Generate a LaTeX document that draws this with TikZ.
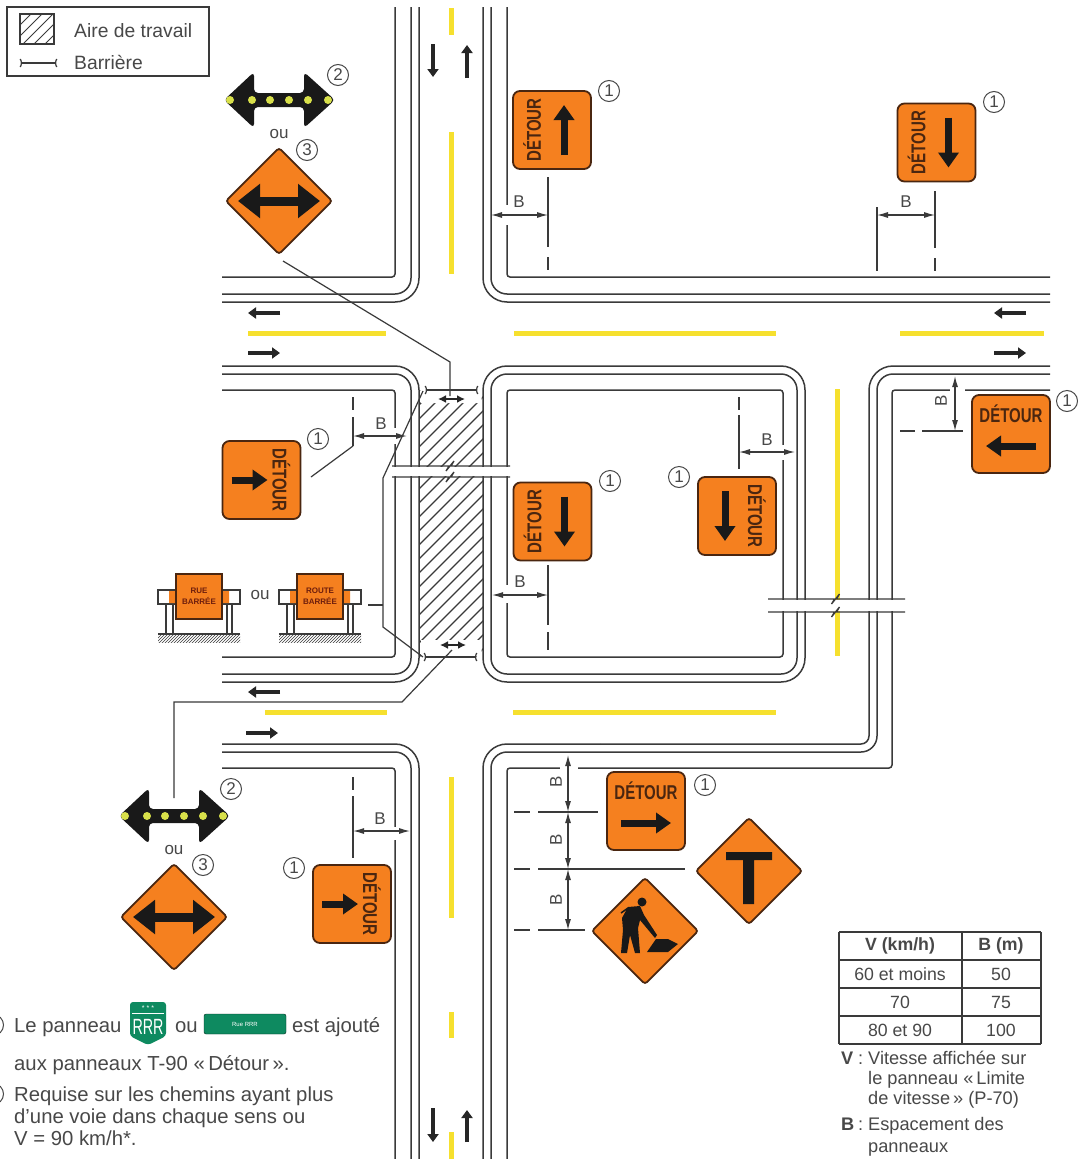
\documentclass[tikz,border=0pt]{standalone}
\usepackage{fontspec}
\setmainfont{Liberation Sans}
\usetikzlibrary{arrows.meta,calc,patterns,shapes.geometric}
\tikzset{>=latex}
\definecolor{lineink}{HTML}{3A3A3A}
\definecolor{textink}{HTML}{484848}
\definecolor{signorange}{HTML}{F5801F}
\definecolor{signdark}{HTML}{4A2610}
\definecolor{markyellow}{HTML}{F6E02E}
\definecolor{lampyellow}{HTML}{D8E04A}
\definecolor{shieldgreen}{HTML}{0E8A60}
\tikzset{
  roadline/.style={draw=lineink,line width=1.5pt},
  gapline/.style={draw=white,line width=4pt},
  yellowline/.style={draw=markyellow,line width=5pt},
  thinline/.style={draw=lineink,line width=1.2pt},
  dimarrow/.style={thinline,{Latex[length=11pt,width=6pt]}-{Latex[length=11pt,width=6pt]}},
  roadarrow/.style={draw=black!85,line width=4pt,-{Triangle[length=8pt,width=11pt]}},
  detourbox/.style={draw=signdark,fill=signorange,line width=1.8pt,rounded corners=7pt,minimum size=78pt,inner sep=0pt},
  detourtext/.style={text=signdark,font=\fontsize{20}{20}\selectfont\bfseries,inner sep=0pt},
  detourarrow/.style={draw=black!90,line width=7pt,-{Triangle[length=15pt,width=20pt]}},
  warnsign/.style={shape=diamond,aspect=1,draw=signdark,fill=signorange,line width=1.8pt,rounded corners=3pt,minimum size=107pt,inner sep=0pt},
  callout/.style={circle,draw=textink,line width=1pt,minimum size=21pt,inner sep=0pt,text=textink,font=\fontsize{17}{17}\selectfont},
  dimlabel/.style={text=textink,inner sep=0pt,font=\fontsize{17}{17}\selectfont},
  notetext/.style={text=textink,inner sep=0pt,anchor=base west,font=\fontsize{20.3}{22}\selectfont},
  sidetext/.style={text=textink,inner sep=0pt,anchor=base west,font=\fontsize{18.2}{20}\selectfont},
  legendtext/.style={text=textink,inner sep=0pt,anchor=base west,font=\fontsize{19.3}{20}\selectfont},
  cellhead/.style={text=textink,inner sep=0pt,font=\fontsize{17.7}{19}\selectfont\bfseries},
  celltext/.style={text=textink,inner sep=0pt,font=\fontsize{17.7}{19}\selectfont},
  barrier/.style={thinline,{Arc Barb[reversed,length=2pt,width=9pt]}-{Arc Barb[reversed,length=2pt,width=9pt]}},
}
% name, x, y, text angle, arrow angle, half length of the arrow
\newcommand{\detoursign}[6]{
  \node[detourbox] (#1) at (#2,#3) {};
  \node[detourtext,rotate=#4,xscale=0.75] (#1text) at ($(#1)+(#4+90:20pt)$) {DÉTOUR};
  \draw[detourarrow] ($(#1)+(#4-90:12pt)+(#5+180:#6pt)$) -- ($(#1)+(#4-90:12pt)+(#5:#6pt)$);
}
% name, x, y
\newcommand{\arrowboard}[3]{
  \coordinate (#1) at (#2,#3);
  \begin{scope}[shift={(#2,#3)}]
    \fill[black!90,rounded corners=4pt] (-55,0) -- (-25,-28) -- (-25,-7) -- (25,-7) -- (25,-28)
      -- (56,0) -- (25,28) -- (25,7) -- (-25,7) -- (-25,28) -- cycle;
    \foreach \x in {-49,-27,-9,10,29,49}
      \fill[lampyellow] (\x,0) circle (4pt);
  \end{scope}
}
% name, x, y
\newcommand{\doublearrowsign}[3]{
  \node[warnsign] (#1) at (#2,#3) {};
  \draw[draw=black!90,line width=9pt,{Triangle[length=22pt,width=33pt]}-{Triangle[length=22pt,width=33pt]}]
    ($(#1)+(-41,0)$) -- ($(#1)+(41,0)$);
}
% name, x, first line, second line
\newcommand{\barricade}[4]{
  \begin{scope}[shift={(#2,0)}]
    \draw[lineink,line width=1.3pt,fill=white] (-41,590) rectangle (41,604);
    \fill[signorange] (-30,591) rectangle (-22,603) (22,591) rectangle (30,603);
    \draw[lineink,line width=1.3pt] (-33,604) -- (-33,634) (-26,604) -- (-26,634) (28,604) -- (28,634) (33,604) -- (33,634);
    \fill[pattern=north east lines,pattern color=lineink] (-41,634) rectangle (41,642);
    \draw[lineink,line width=1.5pt] (-41,634) -- (41,634);
    \node[draw=signdark,fill=signorange,line width=1.3pt,minimum width=46pt,minimum height=45pt,inner sep=0pt,
          align=center,text=signdark!80!red,font=\fontsize{8}{11}\selectfont\bfseries] (#1) at (0,596.5) {#3\\#4};
  \end{scope}
}
% left end, right end, y
\newcommand{\breakline}[3]{
  \draw[roadline,line width=1.3pt] (#1,#3) -- ({(#1+#2)/2-2},#3) -- ({(#1+#2)/2-5},#3+5) -- ({(#1+#2)/2+3},#3-5) -- ({(#1+#2)/2},#3) -- (#2,#3);
}

\begin{document}
\begin{tikzpicture}[x=1pt,y=-1pt]
  \useasboundingbox (0,0) rectangle (1078,1159);
  \fill[white] (0,0) rectangle (1078,1159);
  % yellow markings
  \draw[yellowline] (451,8) -- (451,35) (451,132) -- (451,274);
  \draw[yellowline] (248,333) -- (386,333) (514,333) -- (776,333) (900,333) -- (1044,333);
  \draw[yellowline] (265,712) -- (387,712) (513,712) -- (776,712);
  \draw[yellowline] (451,777) -- (451,918) (451,1012) -- (451,1038) (451,1132) -- (451,1159);
  \draw[yellowline] (837,389) -- (837,656);
  % road edges
  \draw[roadline,rounded corners=3pt] (395,7) -- (395,277) -- (222,277);
  \draw[roadline,rounded corners=16pt] (411,7) -- (411,294) -- (222,294);
  \draw[roadline,rounded corners=24pt] (419,7) -- (419,302) -- (222,302);
  \draw[roadline,rounded corners=3pt] (507,7) -- (507,277) -- (1050,277);
  \draw[roadline,rounded corners=16pt] (491,7) -- (491,294) -- (1050,294);
  \draw[roadline,rounded corners=24pt] (483,7) -- (483,302) -- (1050,302);
  \draw[roadline,rounded corners=24pt] (222,366) -- (419,366) -- (419,682) -- (222,682);
  \draw[roadline,rounded corners=16pt] (222,374) -- (411,374) -- (411,674) -- (222,674);
  \draw[roadline,rounded corners=3pt] (222,390) -- (395,390) -- (395,657) -- (222,657);
  \draw[roadline,rounded corners=24pt] (483,500) -- (483,366) -- (805,366) -- (805,682) -- (483,682) -- cycle;
  \draw[roadline,rounded corners=16pt] (491,500) -- (491,374) -- (797,374) -- (797,674) -- (491,674) -- cycle;
  \draw[roadline,rounded corners=3pt] (507,500) -- (507,390) -- (783,390) -- (783,657) -- (507,657) -- cycle;
  \draw[roadline,rounded corners=24pt] (1050,366) -- (869,366) -- (869,600);
  \draw[roadline,rounded corners=8pt] (869,600) -- (869,744) -- (600,744);
  \draw[roadline,rounded corners=24pt] (600,744) -- (483,744) -- (483,1159);
  \draw[roadline,rounded corners=16pt] (1050,374) -- (877,374) -- (877,752) -- (491,752) -- (491,1159);
  \draw[roadline,rounded corners=3pt] (1050,390) -- (892,390) -- (892,768) -- (507,768) -- (507,1159);
  \draw[roadline,rounded corners=24pt] (222,744) -- (419,744) -- (419,1159);
  \draw[roadline,rounded corners=16pt] (222,752) -- (411,752) -- (411,1159);
  \draw[roadline,rounded corners=3pt] (222,768) -- (395,768) -- (395,1159);
  % work area
  \begin{scope}
    \clip (419,390) rectangle (483,657);
    \foreach \i in {0,14,...,338}
      \draw[lineink,line width=1.1pt] (\i+150,660) -- (\i+420,390);
  \end{scope}
  \fill[white] (421,391) rectangle (481.5,403) (421,640) rectangle (481.5,656);
  \draw[barrier] (425,390) -- (478,390);
  \draw[barrier] (424,657) -- (477,657);
  \draw[draw=black!85,line width=2pt,{Latex[length=8pt,width=8pt]}-{Latex[length=8pt,width=8pt]}] (438,399) -- (465,399);
  \draw[draw=black!85,line width=2pt,{Latex[length=8pt,width=8pt]}-{Latex[length=8pt,width=8pt]}] (440,645) -- (466,645);
  \coordinate (barriertop) at (450,396);
  \coordinate (barrierbottom) at (452,650);
  % cut bands
  \fill[white] (388,467) rectangle (512,476);
  \breakline{392}{510}{466}
  \breakline{392}{510}{477}
  \fill[white] (766,600) rectangle (908,611);
  \breakline{768}{905}{599}
  \breakline{768}{905}{612}
  % lane arrows
  \draw[roadarrow] (433,44) -- (433,77);
  \draw[roadarrow] (467,78) -- (467,45);
  \draw[roadarrow] (433,1108) -- (433,1142);
  \draw[roadarrow] (467,1142) -- (467,1110);
  \draw[roadarrow] (280,313) -- (248,313);
  \draw[roadarrow] (248,353) -- (280,353);
  \draw[roadarrow] (1026,313) -- (994,313);
  \draw[roadarrow] (994,353) -- (1026,353);
  \draw[roadarrow] (280,692) -- (248,692);
  \draw[roadarrow] (246,733) -- (278,733);
  % spacing marks
  \draw[gapline] (507,205) -- (507,225) (395,428) -- (395,444) (507,585) -- (507,603) (783,445) -- (783,460);
  \draw[gapline] (395,827) -- (395,840) (950,390) -- (965,390) (560,768) -- (578,768);
  \draw[thinline] (548,177) -- (548,247) (548,257) -- (548,270);
  \draw[dimarrow] (491,215) -- (548,215);
  \node[dimlabel] (spacenorth) at (519,202) {B};
  \draw[thinline] (877,207) -- (877,271) (935,191) -- (935,248) (935,258) -- (935,271);
  \draw[dimarrow] (877,215) -- (935,215);
  \node[dimlabel] (spacene) at (906,202) {B};
  \draw[thinline] (353,397) -- (353,410) (353,417) -- (353,446);
  \draw[dimarrow] (353,436) -- (407,436);
  \node[dimlabel] (spacewest) at (381,424) {B};
  \draw[thinline] (548,565) -- (548,625) (548,632) -- (548,650);
  \draw[dimarrow] (492,595) -- (548,595);
  \node[dimlabel] (spacemiddle) at (520,582) {B};
  \draw[thinline] (739,397) -- (739,410) (739,415) -- (739,469);
  \draw[dimarrow] (739,452) -- (795,452);
  \node[dimlabel] (spaceright) at (767,440) {B};
  \draw[thinline] (900,431) -- (915,431) (922,431) -- (963,431);
  \draw[dimarrow] (955,376) -- (955,431);
  \node[dimlabel,rotate=90] (spaceeast) at (941,401) {B};
  \draw[thinline] (353,777) -- (353,790) (353,796) -- (353,858);
  \draw[dimarrow] (353,831) -- (410,831);
  \node[dimlabel] (spacesouth) at (380,819) {B};
  \draw[thinline] (514,812) -- (530,812) (538,812) -- (598,812);
  \draw[thinline] (514,869) -- (530,869) (538,869) -- (685,869);
  \draw[thinline] (514,930) -- (530,930) (538,930) -- (585,930);
  \draw[dimarrow] (568,755) -- (568,812);
  \draw[dimarrow] (568,812) -- (568,869);
  \draw[dimarrow] (568,869) -- (568,930);
  \node[dimlabel,rotate=90] (spaceone) at (556,782) {B};
  \node[dimlabel,rotate=90] (spacetwo) at (556,840) {B};
  \node[dimlabel,rotate=90] (spacethree) at (556,900) {B};
  % leaders
  \coordinate (leaderdiamond) at (283,261);
  \coordinate (leaderboard) at (174,798);
  \coordinate (leaderwest) at (311,477);
  \coordinate (leaderblock) at (368,605);
  \coordinate (leaderupper) at (423,391);
  \coordinate (leaderlower) at (423,657);
  \draw[thinline] (leaderdiamond) -- (450,362) -- (barriertop);
  \draw[thinline] (leaderboard) -- (174,702) -- (402,702) -- (barrierbottom);
  \draw[thinline] (353,446) -- (leaderwest);
  \draw[thinline] (leaderupper) -- (383,478) -- (383,627) -- (leaderlower);
  \draw[thinline] (leaderblock) -- (383,605);
  % detour signs
  \detoursign{detournorth}{552}{130}{90}{90}{25}
  \detoursign{detourne}{936.5}{142.5}{90}{-90}{25}
  \detoursign{detourwest}{261.5}{480}{-90}{0}{18}
  \detoursign{detourmiddle}{552.5}{521.5}{90}{-90}{25}
  \detoursign{detourright}{737}{516}{-90}{-90}{25}
  \detoursign{detoureast}{1011}{434}{0}{180}{25}
  \detoursign{detourse}{646}{811}{0}{0}{25}
  \detoursign{detoursouth}{352}{904}{-90}{0}{18}
  \node[callout] (onenorth) at (609,91) {1};
  \node[callout] (onene) at (994,102) {1};
  \node[callout] (onewest) at (318,439) {1};
  \node[callout] (onemiddle) at (610,481) {1};
  \node[callout] (oneright) at (679,477) {1};
  \node[callout] (oneeast) at (1067,401) {1};
  \node[callout] (onese) at (705,785) {1};
  \node[callout] (onesouth) at (294,868) {1};
  % arrow boards
  \arrowboard{boardnorth}{279}{100}
  \node[callout] (twonorth) at (338,75) {2};
  \node[dimlabel] (ounorth) at (279,134) {ou};
  \doublearrowsign{diamondnorth}{279}{201}
  \node[callout] (threenorth) at (307,150) {3};
  \arrowboard{boardsouth}{174}{816}
  \node[callout] (twosouth) at (231,789) {2};
  \node[dimlabel] (ousouth) at (174,850) {ou};
  \doublearrowsign{diamondsouth}{174}{917}
  \node[callout] (threesouth) at (203,865) {3};
  % barricades
  \barricade{barricadeleft}{199}{RUE}{BARRÉE}
  \barricade{barricaderight}{320}{ROUTE}{BARRÉE}
  \node[dimlabel] (oublock) at (260,595) {ou};
  % warning signs
  \node[warnsign] (signjunction) at (749,871) {};
  \fill[black!90] (726,852) rectangle (772,860) (743,860) rectangle (754,904);
  \node[warnsign] (signworker) at (645,931) {};
  \fill[black!90] (642,902) circle (4.5pt);
  \fill[black!90] (628,907) -- (640,906) -- (644,915) -- (657,935) -- (655,938) -- (640,920) -- (638,928) -- (640,953)
    -- (635,953) -- (630,935) -- (627,953) -- (621,953) -- (623,930) -- (622,918) -- cycle;
  \draw[black!90,line width=1.5pt] (628,908) -- (621,913);
  \fill[black!90] (647,952) -- (656,939) -- (668,939) -- (678,944) -- (668,952) -- cycle;
  % legend
  \draw[thinline] (7,7) rectangle (209,76);
  \begin{scope}
    \clip (20,14) rectangle (54,44);
    \foreach \i in {0,11,...,66}
      \draw[lineink,line width=0.8pt] (\i-10,44) -- (\i+20,14);
  \end{scope}
  \draw[thinline] (20,14) rectangle (54,44);
  \coordinate (legendleft) at (20,63);
  \coordinate (legendright) at (57,63);
  \draw[barrier] (legendleft) -- (legendright);
  \node[legendtext] (legendwork) at (74,37) {Aire de travail};
  \node[legendtext] (legendbarrier) at (74,69) {Barrière};
  % table
  \foreach \y in {932,960,988,1016,1044}
    \draw[thinline,line width=1.5pt] (839,\y) -- (1041,\y);
  \foreach \x in {839,962,1041}
    \draw[thinline,line width=1.5pt] (\x,932) -- (\x,1044);
  \node[cellhead] (headv) at (900,946) {V (km/h)};
  \node[cellhead] (headb) at (1001,946) {B (m)};
  \foreach \y/\limitv/\gapb in {974/60 et moins/50,1002/70/75,1030/80 et 90/100} {
    \node[celltext] (limit\y) at (900,\y) {\limitv};
    \node[celltext] (gap\y) at (1001,\y) {\gapb};
  }
  \node[sidetext] (keyv) at (841,1064) {\bfseries V};
  \node[sidetext] (keyvcolon) at (858,1064) {:};
  \node[sidetext] (keyvone) at (868,1064) {Vitesse affichée sur};
  \node[sidetext] (keyvtwo) at (868,1084) {le panneau «\,Limite};
  \node[sidetext] (keyvthree) at (868,1104) {de vitesse\,» (P-70)};
  \node[sidetext] (keyb) at (841,1130) {\bfseries B};
  \node[sidetext] (keybcolon) at (858,1130) {:};
  \node[sidetext] (keybone) at (868,1130) {Espacement des};
  \node[sidetext] (keybtwo) at (868,1152) {panneaux};
  % notes
  \node[callout] (noteone) at (-7,1025) {};
  \node[callout] (notetwo) at (-7,1094) {};
  \node[notetext] (notelead) at (14,1032) {Le panneau};
  \fill[shieldgreen,rounded corners=3pt] (130,1002) -- (166,1002) -- (166,1036) -- (148,1045) -- (130,1036) -- cycle;
  \draw[white,line width=0.7pt] (132,1013) -- (164,1013);
  \node[text=white,inner sep=0pt,font=\fontsize{7}{7}\selectfont] (shieldstars) at (148,1008) {* * *};
  \node[text=white,inner sep=0pt,xscale=0.65,font=\fontsize{22}{22}\selectfont] (shieldtext) at (148,1027) {RRR};
  \node[notetext] (noteor) at (175,1032) {ou};
  \node[draw=black!70!shieldgreen,fill=shieldgreen,rounded corners=2pt,minimum width=82pt,minimum height=20pt,inner sep=0pt,
        text=white,font=\fontsize{6}{6}\selectfont] (greensign) at (245,1024) {Rue RRR};
  \node[notetext] (noteend) at (292,1032) {est ajouté};
  \node[notetext] (noteline) at (14,1070) {aux panneaux T-90 «\,Détour\,».};
  \node[notetext] (noteneed) at (14,1101) {Requise sur les chemins ayant plus};
  \node[notetext] (notelane) at (14,1123) {d’une voie dans chaque sens ou};
  \node[notetext] (notespeed) at (14,1145) {V = 90 km/h*.};
\end{tikzpicture}
\end{document}
